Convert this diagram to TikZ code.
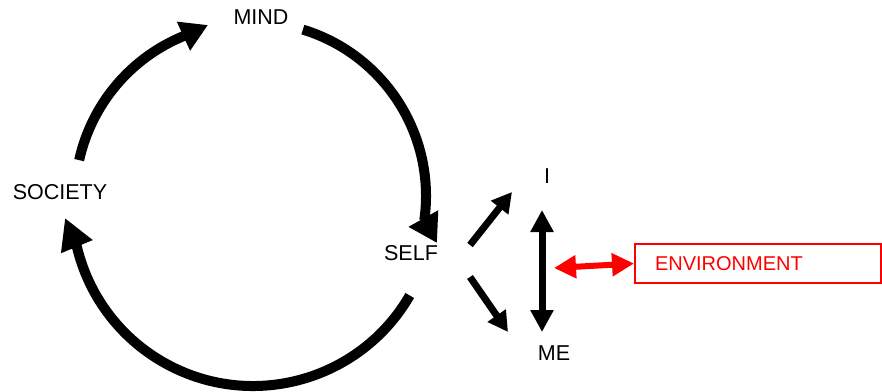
\documentclass[tikz,border=0pt]{standalone}
\usepackage{fontspec}
\setmainfont{Liberation Sans}
\usetikzlibrary{arrows.meta}
\begin{document}
\begin{tikzpicture}[x=1pt,y=1pt,
  lbl/.style={inner sep=0pt, font=\fontsize{21.5}{25}\selectfont},
  cyc/.style={line width=10pt},
  smallarr/.style={line width=7pt, -{Triangle[length=20pt,width=21pt]}},
  dblarr/.style={line width=7pt, {Triangle[length=22pt,width=22pt]}-{Triangle[length=22pt,width=22pt]}},
  redarr/.style={red, line width=6pt, {Triangle[length=22pt,width=22pt]}-{Triangle[length=22pt,width=22pt]}},
  envbox/.style={draw=red, line width=2pt, text=red, anchor=west, inner xsep=20pt, inner ysep=0pt,
    text width=206pt, align=left, minimum height=39pt, font=\fontsize{20}{24}\selectfont}]
\useasboundingbox (0,0) rectangle (882,391);
% labels
\node[lbl] (mind) at (261,373.5) {MIND};
\node[lbl] (society) at (60,198.5) {SOCIETY};
\node[lbl] (self) at (411,137.5) {SELF};
\node[lbl] (i) at (547,215) {I};
\node[lbl] (me) at (554,38) {ME};
\node[envbox] (env) at (634,127.5) {ENVIRONMENT};
% cycle
\coordinate (cm) at (252,195);
\coordinate (cs) at (250,193);
\coordinate (cb) at (253,186);
\coordinate (tipm) at (437,148);
\coordinate (tips) at (208,366);
\coordinate (tipb) at (65,173);
\draw[cyc, -{Triangle[length=28pt,width=32pt]}] (cm) ++(73:174) arc[start angle=73, end angle=-8, radius=174] -- (tipm);
\draw[cyc, -{Triangle[length=27pt,width=30pt]}] (cs) ++(167.5:175) arc[start angle=167.5, end angle=112, radius=175] -- (tips);
\draw[cyc, -{Triangle[length=31pt,width=32pt]}] (cb) ++(-30:181) arc[start angle=-30, end angle=-166.7, radius=181] -- (tipb);
% self to I / ME
\coordinate (s1) at (470,146);
\coordinate (i1) at (512,199);
\coordinate (s2) at (470,114);
\coordinate (m1) at (508,59);
\draw[smallarr] (s1) -- (i1);
\draw[smallarr] (s2) -- (m1);
\coordinate (iv) at (542,181);
\coordinate (mv) at (542,59);
\draw[dblarr] (iv) -- (mv);
\coordinate (r1) at (554,123);
\draw[redarr] (r1) -- (env.west);
\end{tikzpicture}
\end{document}
